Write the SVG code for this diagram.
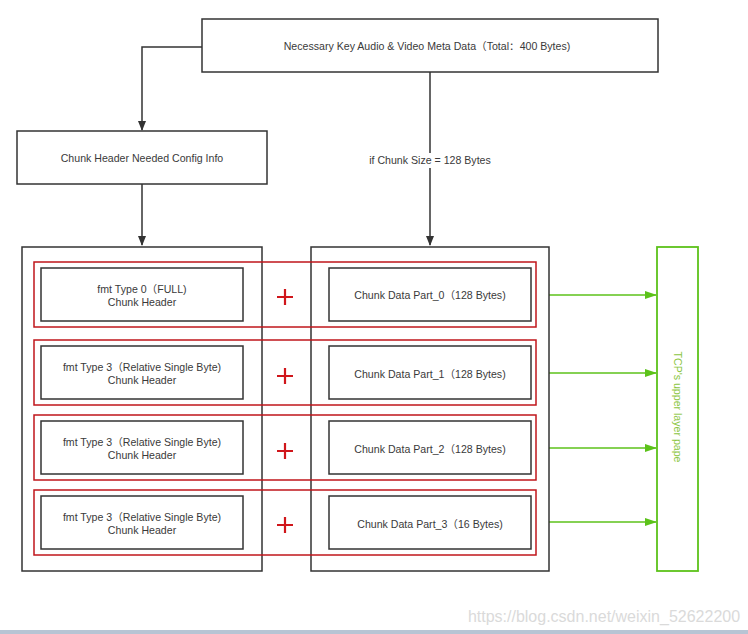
<svg xmlns="http://www.w3.org/2000/svg" width="748" height="634" viewBox="0 0 748 634">
<defs>
<style>
.box{fill:#fff;stroke:#333;stroke-width:1.5}
.red{fill:none;stroke:#c0161b;stroke-width:1.5}
.t{font-family:"Liberation Sans",Arial,"Noto Sans CJK SC",sans-serif;font-size:10.6px;fill:#3a3a3a;text-anchor:middle}
.con{fill:none;stroke:#333;stroke-width:1.5}
.gcon{fill:none;stroke:#5cc21a;stroke-width:1.5}
.plus{stroke:#d0161b;stroke-width:2.2}
</style>
<marker id="ah" markerWidth="10" markerHeight="10" refX="9" refY="5" orient="auto" markerUnits="userSpaceOnUse">
<path d="M0,1 L10,5 L0,9 z" fill="#333"/>
</marker>
<marker id="gh" markerWidth="12" markerHeight="10" refX="11" refY="5" orient="auto" markerUnits="userSpaceOnUse">
<path d="M0,1 L12,5 L0,9 z" fill="#5cc21a"/>
</marker>
</defs>
<rect width="748" height="634" fill="#fff"/>

<g id="connectors">
<path class="con" d="M202,47 H142 V130" marker-end="url(#ah)"/>
<path class="con" d="M142,184 V245" marker-end="url(#ah)"/>
<path class="con" d="M430,72 V245" marker-end="url(#ah)"/>
<rect x="362" y="153" width="136" height="15" fill="#fff"/>
<text class="t" x="430" y="164">if Chunk Size = 128 Bytes</text>
<path class="gcon" d="M537,295 H656" marker-end="url(#gh)"/>
<path class="gcon" d="M537,373 H656" marker-end="url(#gh)"/>
<path class="gcon" d="M537,448 H656" marker-end="url(#gh)"/>
<path class="gcon" d="M537,522 H656" marker-end="url(#gh)"/>
</g>

<g id="meta">
<rect class="box" x="202" y="19" width="456" height="53"/>
<text class="t" x="427" y="50">Necessary Key Audio &amp; Video Meta Data（Total：400 Bytes)</text>
</g>

<g id="config">
<rect class="box" x="17" y="131" width="250" height="53"/>
<text class="t" x="142" y="162">Chunk Header Needed Config Info</text>
</g>

<g id="leftcol">
<rect class="box" x="22" y="247" width="240" height="324" fill="none"/>
</g>
<g id="rightcol">
<rect class="box" x="311" y="247" width="238" height="324" fill="none"/>
</g>

<g id="row0">
<rect class="red" x="34" y="262" width="502" height="65"/>
<rect class="box" x="41" y="268" width="202" height="53"/>
<text class="t" x="142" y="293">fmt Type 0（FULL)</text>
<text class="t" x="142" y="306">Chunk Header</text>
<path class="plus" d="M277,297 H293 M285,289 V305"/>
<rect class="box" x="329" y="268" width="202" height="53"/>
<text class="t" x="430" y="299">Chunk Data Part_0（128 Bytes)</text>
</g>

<g id="row1">
<rect class="red" x="34" y="340" width="502" height="65"/>
<rect class="box" x="41" y="346" width="202" height="53"/>
<text class="t" x="142" y="371">fmt Type 3（Relative Single Byte)</text>
<text class="t" x="142" y="384">Chunk Header</text>
<path class="plus" d="M277,376 H293 M285,368 V384"/>
<rect class="box" x="329" y="346" width="202" height="53"/>
<text class="t" x="430" y="378">Chunk Data Part_1（128 Bytes)</text>
</g>

<g id="row2">
<rect class="red" x="34" y="415" width="502" height="65"/>
<rect class="box" x="41" y="421" width="202" height="53"/>
<text class="t" x="142" y="446">fmt Type 3（Relative Single Byte)</text>
<text class="t" x="142" y="459">Chunk Header</text>
<path class="plus" d="M277,451 H293 M285,443 V459"/>
<rect class="box" x="329" y="421" width="202" height="53"/>
<text class="t" x="430" y="453">Chunk Data Part_2（128 Bytes)</text>
</g>

<g id="row3">
<rect class="red" x="34" y="490" width="502" height="65"/>
<rect class="box" x="41" y="496" width="202" height="53"/>
<text class="t" x="142" y="521">fmt Type 3（Relative Single Byte)</text>
<text class="t" x="142" y="534">Chunk Header</text>
<path class="plus" d="M277,525 H293 M285,517 V533"/>
<rect class="box" x="329" y="496" width="202" height="53"/>
<text class="t" x="430" y="528">Chunk Data Part_3（16 Bytes)</text>
</g>

<g id="tcp">
<rect x="657" y="247" width="41" height="324" fill="#fff" stroke="#5cc21a" stroke-width="1.8"/>
<text class="t" x="0" y="0" style="fill:#8cc63f" transform="translate(674,407) rotate(90)">TCP's upper layer pape</text>
</g>

<text x="604" y="622" font-family="Liberation Sans,Arial,sans-serif" font-size="16" fill="#dadada" text-anchor="middle">https://blog.csdn.net/weixin_52622200</text>
<rect x="0" y="630" width="748" height="4" fill="#b8c4d4"/>
</svg>
